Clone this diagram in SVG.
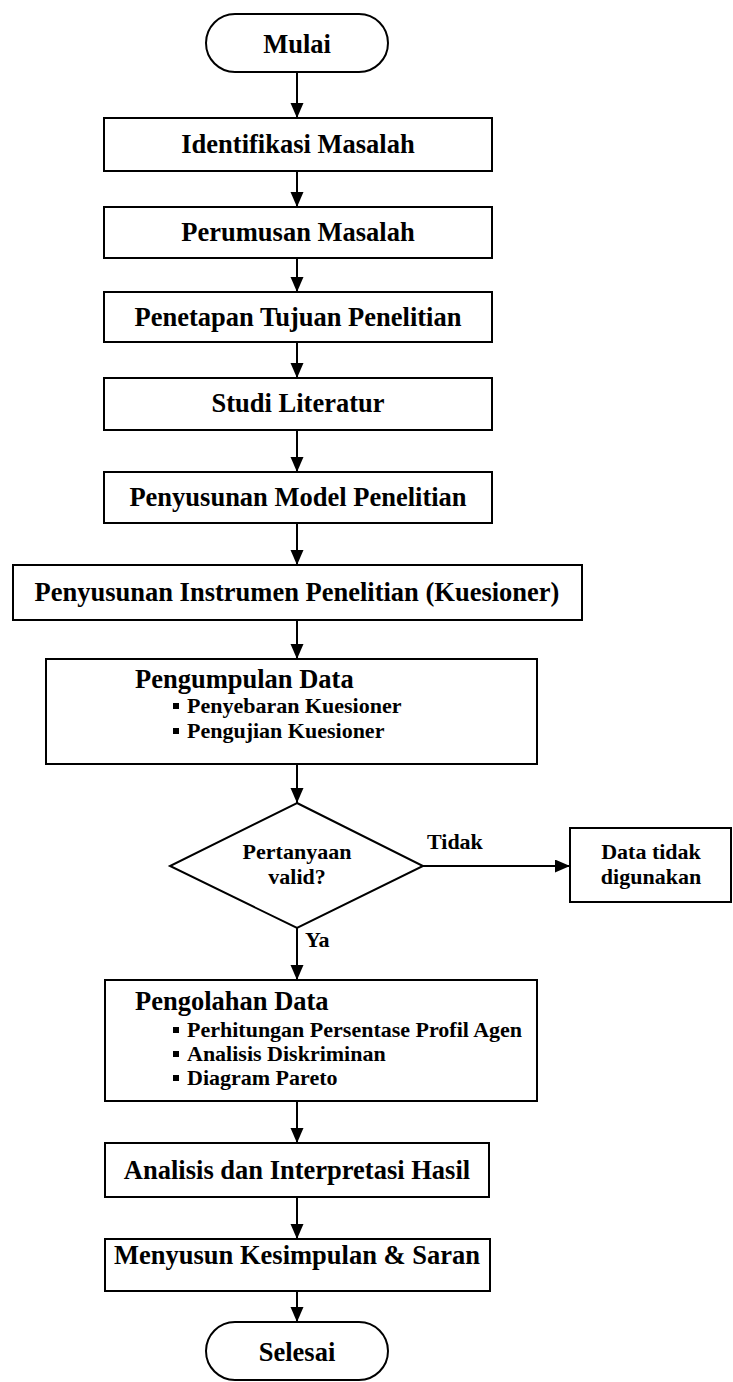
<svg xmlns="http://www.w3.org/2000/svg" width="733" height="1382" viewBox="0 0 733 1382">
<style>
.shape{fill:#fff;stroke:#000;stroke-width:2}
.t{font-family:"Liberation Serif","Times New Roman",serif;font-weight:bold;fill:#000}
.big{font-size:26.5px}
.mid{font-size:22px}
.c{text-anchor:middle}
.conn{stroke:#000;stroke-width:2;fill:none;marker-end:url(#ah)}
</style>
<defs>
<marker id="ah" markerUnits="userSpaceOnUse" markerWidth="16" markerHeight="14" refX="15" refY="6.5" orient="auto">
<path d="M0,0 L15,6.5 L0,13 Z" fill="#000"/>
</marker>
</defs>
<rect width="733" height="1382" fill="#fff"/>
<g id="connectors">
<line class="conn" x1="297" y1="72" x2="297" y2="118"/>
<line class="conn" x1="297" y1="171" x2="297" y2="207"/>
<line class="conn" x1="297" y1="258" x2="297" y2="292"/>
<line class="conn" x1="297" y1="342" x2="297" y2="378"/>
<line class="conn" x1="297" y1="430" x2="297" y2="472"/>
<line class="conn" x1="297" y1="523" x2="297" y2="565"/>
<line class="conn" x1="297" y1="620" x2="297" y2="659"/>
<line class="conn" x1="297" y1="764" x2="297" y2="803"/>
<line class="conn" x1="423" y1="866" x2="570" y2="866"/>
<line class="conn" x1="297" y1="928" x2="297" y2="980"/>
<line class="conn" x1="297" y1="1101" x2="297" y2="1143"/>
<line class="conn" x1="297" y1="1197" x2="297" y2="1239"/>
<line class="conn" x1="297" y1="1291" x2="297" y2="1322"/>
<text class="t mid" x="427" y="849">Tidak</text>
<text class="t mid" x="305" y="947">Ya</text>
</g>
<g id="mulai">
<rect class="shape" x="206" y="14" width="182" height="58" rx="29" ry="29"/>
<text class="t big c" x="297" y="53">Mulai</text>
</g>
<g id="identifikasi">
<rect class="shape" x="104" y="118" width="388" height="53"/>
<text class="t big c" x="298" y="153">Identifikasi Masalah</text>
</g>
<g id="perumusan">
<rect class="shape" x="104" y="207" width="388" height="51"/>
<text class="t big c" x="298" y="241">Perumusan Masalah</text>
</g>
<g id="penetapan">
<rect class="shape" x="104" y="292" width="388" height="50"/>
<text class="t big c" x="298" y="326">Penetapan Tujuan Penelitian</text>
</g>
<g id="studi">
<rect class="shape" x="104" y="378" width="388" height="52"/>
<text class="t big c" x="298" y="412">Studi Literatur</text>
</g>
<g id="model">
<rect class="shape" x="104" y="472" width="388" height="51"/>
<text class="t big c" x="298" y="506">Penyusunan Model Penelitian</text>
</g>
<g id="instrumen">
<rect class="shape" x="13" y="565" width="569" height="55"/>
<text class="t big c" x="297" y="601">Penyusunan Instrumen Penelitian (Kuesioner)</text>
</g>
<g id="pengumpulan">
<rect class="shape" x="46" y="659" width="491" height="105"/>
<text class="t big" x="135" y="688">Pengumpulan Data</text>
<rect x="173" y="703" width="6" height="6" fill="#000"/>
<text class="t mid" x="187" y="713">Penyebaran Kuesioner</text>
<rect x="173" y="728" width="6" height="6" fill="#000"/>
<text class="t mid" x="187" y="738">Pengujian Kuesioner</text>
</g>
<g id="decision">
<polygon class="shape" points="297,803 423,866 297,928 170,866"/>
<text class="t mid c" x="297" y="859">Pertanyaan</text>
<text class="t mid c" x="297" y="884">valid?</text>
</g>
<g id="tidak-digunakan">
<rect class="shape" x="570" y="828" width="161" height="74"/>
<text class="t mid c" x="651" y="859">Data tidak</text>
<text class="t mid c" x="651" y="884">digunakan</text>
</g>
<g id="pengolahan">
<rect class="shape" x="105" y="980" width="432" height="121"/>
<text class="t big" x="135" y="1010">Pengolahan Data</text>
<rect x="173" y="1027" width="6" height="6" fill="#000"/>
<text class="t mid" x="187" y="1037">Perhitungan Persentase Profil Agen</text>
<rect x="173" y="1051" width="6" height="6" fill="#000"/>
<text class="t mid" x="187" y="1061">Analisis Diskriminan</text>
<rect x="173" y="1075" width="6" height="6" fill="#000"/>
<text class="t mid" x="187" y="1085">Diagram Pareto</text>
</g>
<g id="analisis">
<rect class="shape" x="105" y="1143" width="384" height="54"/>
<text class="t big c" x="297" y="1179">Analisis dan Interpretasi Hasil</text>
</g>
<g id="kesimpulan">
<rect class="shape" x="105" y="1239" width="385" height="52"/>
<text class="t big c" x="297" y="1264">Menyusun Kesimpulan &amp; Saran</text>
</g>
<g id="selesai">
<rect class="shape" x="206" y="1322" width="182" height="58" rx="29" ry="29"/>
<text class="t big c" x="297" y="1361">Selesai</text>
</g>
</svg>
